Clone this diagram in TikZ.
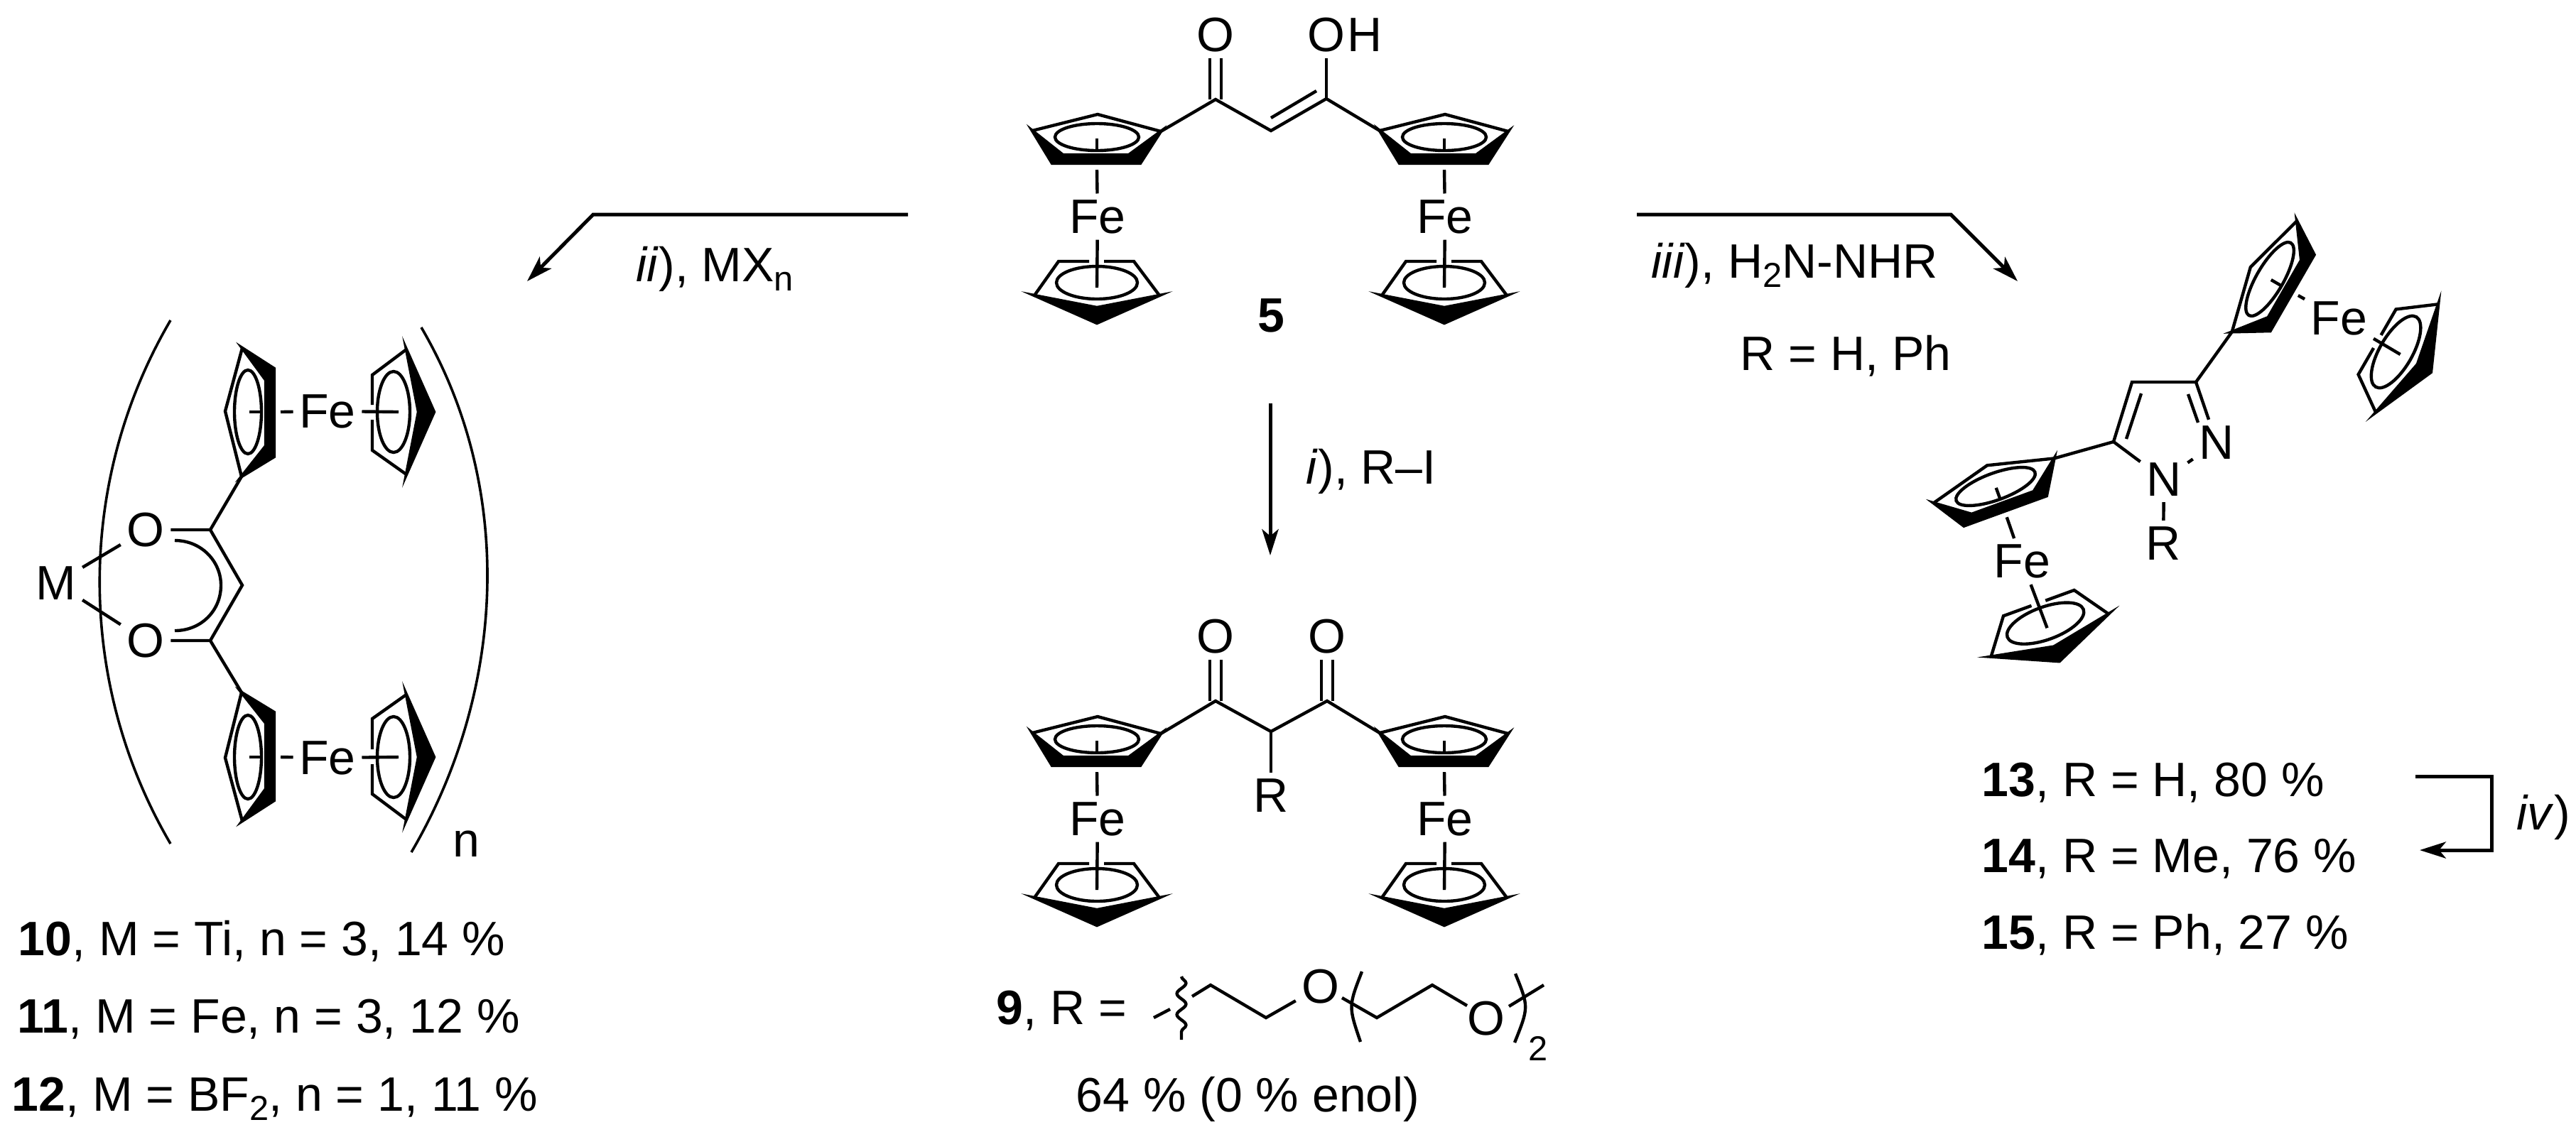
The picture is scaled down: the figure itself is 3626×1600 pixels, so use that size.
\documentclass[tikz,border=0pt]{standalone}
\usepackage{fontspec}
\setmainfont{Liberation Sans}
\usetikzlibrary{arrows.meta, decorations.pathmorphing}
\newcommand{\lowtext}[1]{\raisebox{-.2em}{\fontsize{12.2}{12}\selectfont #1}}
\tikzset{>={Stealth[length=9.2pt, width=5.8pt, inset=2.4pt]}}
\tikzset{
    bond/.style={line width=1.1pt},
    atom/.style={inner sep=2pt},
    lab/.style={anchor=base west, inner sep=0pt},
    rxn/.style={line width=1.25pt, ->},
    ferrocene/.pic={
        \coordinate (atl) at (-91,-9);
        \coordinate (atr) at (90,-8);
        \filldraw[bond] (atl) -- (-63,37) -- (61,37) -- (atr) -- (45,25) -- (-48,25) -- cycle;
        \draw[bond] (atl) -- (1,-32) -- (atr);
        \draw[bond] (0,0) ellipse [x radius=59, y radius=19];
        \draw[bond] (0,2) -- (0,18);
        \coordinate (ua) at (0,46);
        \coordinate (ub) at (0,212);
        \node[atom] (fe) at (1,112) {Fe};
        \draw[bond] (ua) -- (fe) -- (ub);
        \draw[bond] (-11,175) -- (-54,175) -- (-88,223);
        \draw[bond] (10,175) -- (52,175) -- (88,223);
        \filldraw[bond] (-88,223) -- (0,262) -- (88,223) -- (0,240) -- cycle;
        \draw[bond] (0,205) ellipse [x radius=57, y radius=23];
    }
}

\begin{document}
\begin{tikzpicture}[x=.25pt, y=-.25pt, every node/.style={font=\fontsize{17}{20}\selectfont}]
    \useasboundingbox (0,0) rectangle (3626,1600);

    % 5
    \pic (fa) at (1544,193) {ferrocene};
    \pic (fb) at (2033,193) {ferrocene};
    \coordinate (ca) at (1711,140);
    \coordinate (cb) at (1789,184);
    \coordinate (cc) at (1867,139);
    \node[atom] (oa) at (1711,49) {O};
    \node[atom] (ob) at (1867,49) {O};
    \node[lab, anchor=west, xshift=-1.6pt] (hb) at (ob.east) {H};
    \node (five) at (1789,444) {\textbf{5}};
    \draw[bond] (faatr) -- (ca) -- (cb) -- (cc) -- (fbatl);
    \draw[bond] ([xshift=-2pt]oa.south) -- ([xshift=-2pt]ca);
    \draw[bond] ([xshift=2pt]oa.south) -- ([xshift=2pt]ca);
    \draw[bond] (ob) -- (cc);
    \draw[bond] (1789,166) -- (1853,128);

    % 9
    \pic (fc) at (1544,1041) {ferrocene};
    \pic (fd) at (2033,1041) {ferrocene};
    \coordinate (cd) at (1711,987);
    \coordinate (ce) at (1789,1030);
    \coordinate (cf) at (1868,987);
    \node[atom] (oc) at (1711,896) {O};
    \node[atom] (od) at (1868,896) {O};
    \node[atom] (ra) at (1789,1120) {R};
    \draw[bond] (fcatr) -- (cd) -- (ce) -- (cf) -- (fdatl);
    \draw[bond] (ce) -- (ra);
    \draw[bond] ([xshift=-2pt]oc.south) -- ([xshift=-2pt]cd);
    \draw[bond] ([xshift=2pt]oc.south) -- ([xshift=2pt]cd);
    \draw[bond] ([xshift=-2pt]od.south) -- ([xshift=-2pt]cf);
    \draw[bond] ([xshift=2pt]od.south) -- ([xshift=2pt]cf);

    % side chain of 9
    \foreach \x/\y/\n in {1624/1433/sa, 1647/1421/sb, 1663/1375/wa, 1663/1464/wb,
        1678/1403/sc, 1704/1387/sd, 1782/1433/se, 1889/1405/sf, 1938/1433/sg,
        2016/1387/sh, 2065/1416/si, 2124/1417/sj, 2173/1387/sk}
        \coordinate (\n) at (\x,\y);
    \node[atom] (oe) at (1859,1389) {O};
    \node[atom] (of) at (2092,1434) {O};
    \draw[bond] (sa) -- (sb);
    \draw[bond, decorate, decoration={snake, segment length=7.4pt, amplitude=1.6pt}] (wa) -- (wb);
    \draw[bond] (sc) -- (sd) -- (se) -- (oe);
    \draw[bond] (sf) -- (sg) -- (sh) -- (si);
    \draw[bond] (sj) -- (sk);
    \draw[bond] (1917,1368) .. controls (1898,1417) .. (1915,1467);
    \draw[bond] (2133,1371) .. controls (2152,1418) .. (2132,1468);
    \node[lab] at (1402,1442) {\textbf{9}, R =};
    \node[lab, font=\fontsize{12.2}{12}\selectfont] at (2151,1493) {2};
    \node[lab] at (1514,1565) {64 \% (0 \% enol)};

    % 10-12
    \pic (fe) at (349,580) [rotate=90] {ferrocene};
    \pic (ff) at (349,1066) [rotate=90, xscale=-1] {ferrocene};
    \coordinate (cg) at (296,746);
    \coordinate (ch) at (341,824);
    \coordinate (ci) at (296,902);
    \node[atom] (oga) at (205,746) {O};
    \node[atom] (ogb) at (205,902) {O};
    \node[atom] (mm) at (79,821) {M};
    \draw[bond] (mm) -- (oga);
    \draw[bond] (mm) -- (ogb);
    \draw[bond] (oga) -- (cg) -- (ch) -- (ci) -- (ogb);
    \draw[bond] (cg) -- (featl);
    \draw[bond] (ci) -- (ffatl);
    \draw[bond] (246,761) .. controls (283,761) and (311,790) .. (311,824)
        .. controls (311,860) and (283,888) .. (246,888);
    \draw[line width=.9pt] (240,451) .. controls (107,678) and (107,961) .. (240,1188);
    \draw[line width=.9pt] (593,461) .. controls (726,688) and (712,973) .. (579,1200);
    \node[lab] at (637,1206) {n};
    \node[lab] at (25,1345) {\textbf{10}, M = Ti, n = 3, 14 \%};
    \node[lab] at (24,1454) {\textbf{11}, M = Fe, n = 3, 12 \%};
    \node[lab] at (16,1564) {\textbf{12}, M = BF\lowtext{2}, n = 1, 11 \%};

    % 13-15
    \pic (fg) at (3195,393) [rotate=60] {ferrocene};
    \pic (fh) at (2809,685) [rotate=20, xscale=-1] {ferrocene};
    \coordinate (cj) at (3091,538);
    \coordinate (ck) at (3001,538);
    \coordinate (cl) at (2975,622);
    \node[atom] (na) at (3046,675) {N};
    \node[atom] (nb) at (3120,623) {N};
    \node[atom] (rb) at (3045,765) {R};
    \draw[bond] (fgatl) -- (cj) -- (ck) -- (cl) -- (fhatl);
    \draw[bond] (cl) -- (na) -- (nb) -- (cj);
    \draw[bond] (na) -- (rb);
    \draw[bond] (3080,555) -- (3094,595);
    \draw[bond] (3014,554) -- (2993,618);
    \node[lab] at (2789,1121) {\textbf{13}, R = H, 80 \%};
    \node[lab] at (2789,1228) {\textbf{14}, R = Me, 76 \%};
    \node[lab] at (2789,1336) {\textbf{15}, R = Ph, 27 \%};

    % arrows
    \foreach \x/\y/\n in {1278/302/aa, 835/302/ab, 742/396/ac, 2304/302/ad, 2746/302/ae, 2840/396/af,
        1788/568/ag, 1788/782/ah, 3400/1093/ai, 3507/1093/aj, 3507/1197/ak, 3406/1197/al}
        \coordinate (\n) at (\x,\y);
    \draw[rxn] (aa) -- (ab) -- (ac);
    \draw[rxn] (ad) -- (ae) -- (af);
    \draw[rxn] (ag) -- (ah);
    \draw[rxn] (ai) -- (aj) -- (ak) -- (al);
    \node[lab] at (895,396) {\textit{ii}), MX\lowtext{n}};
    \node[lab] at (2324,391) {\textit{iii}), H\lowtext{2}N-NHR};
    \node[lab] at (2449,521) {R = H, Ph};
    \node[lab] at (1838,681) {\textit{i}), R–I};
    \node[lab] at (3542,1168) {\textit{iv})};
\end{tikzpicture}
\end{document}
